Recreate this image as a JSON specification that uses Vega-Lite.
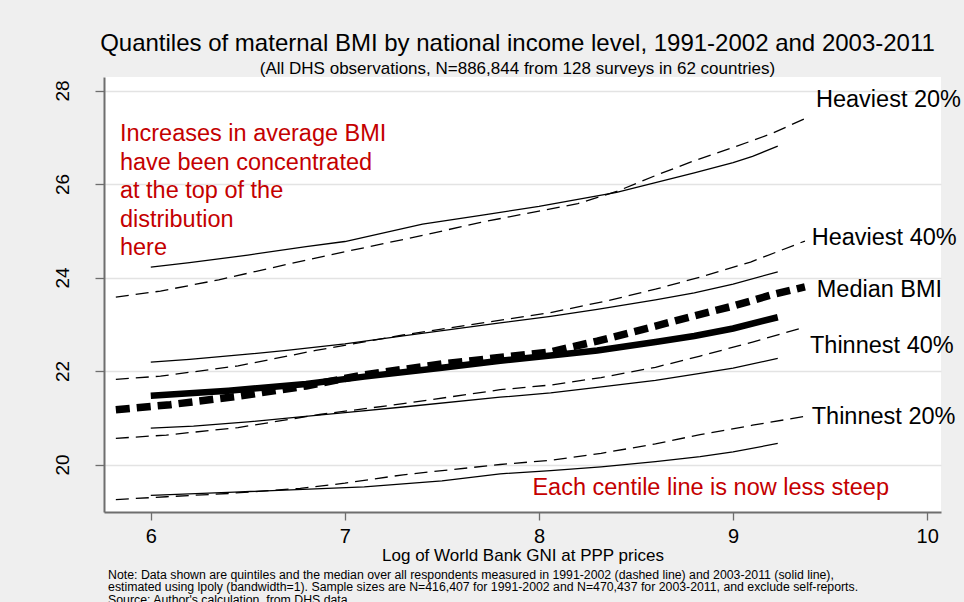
{
  "$schema": "https://vega.github.io/schema/vega-lite/v6.json",
  "width": 837,
  "height": 435,
  "autosize": {"type": "none"},
  "padding": {"left": 104, "top": 77, "right": 23, "bottom": 90},
  "background": "#efefef",
  "view": {"fill": "white", "stroke": null},
  "title": {
    "text": "Quantiles of maternal BMI by national income level, 1991-2002 and 2003-2011",
    "subtitle": "(All DHS observations, N=886,844 from 128 surveys in 62 countries)",
    "anchor": "middle",
    "frame": "group",
    "font": "Liberation Sans",
    "fontSize": 24,
    "fontWeight": "normal",
    "color": "black",
    "subtitleFont": "Liberation Sans",
    "subtitleFontSize": 17,
    "subtitleColor": "black",
    "subtitlePadding": 5,
    "offset": 0,
    "dx": -5
  },
  "datasets": {
    "quantiles": [
      {"q": "Heaviest 20%", "period": "2003-2011", "x": 6.0, "bmi": 24.22},
      {"q": "Heaviest 20%", "period": "2003-2011", "x": 6.2, "bmi": 24.32},
      {"q": "Heaviest 20%", "period": "2003-2011", "x": 6.5, "bmi": 24.48},
      {"q": "Heaviest 20%", "period": "2003-2011", "x": 6.8, "bmi": 24.66},
      {"q": "Heaviest 20%", "period": "2003-2011", "x": 7.0, "bmi": 24.77},
      {"q": "Heaviest 20%", "period": "2003-2011", "x": 7.4, "bmi": 25.14},
      {"q": "Heaviest 20%", "period": "2003-2011", "x": 7.7, "bmi": 25.33},
      {"q": "Heaviest 20%", "period": "2003-2011", "x": 8.0, "bmi": 25.52},
      {"q": "Heaviest 20%", "period": "2003-2011", "x": 8.4, "bmi": 25.82},
      {"q": "Heaviest 20%", "period": "2003-2011", "x": 8.6, "bmi": 26.03},
      {"q": "Heaviest 20%", "period": "2003-2011", "x": 8.8, "bmi": 26.24},
      {"q": "Heaviest 20%", "period": "2003-2011", "x": 9.0, "bmi": 26.46},
      {"q": "Heaviest 20%", "period": "2003-2011", "x": 9.1, "bmi": 26.59},
      {"q": "Heaviest 20%", "period": "2003-2011", "x": 9.23, "bmi": 26.81},

      {"q": "Heaviest 20%", "period": "1991-2002", "x": 5.82, "bmi": 23.58},
      {"q": "Heaviest 20%", "period": "1991-2002", "x": 6.05, "bmi": 23.71},
      {"q": "Heaviest 20%", "period": "1991-2002", "x": 6.35, "bmi": 23.95},
      {"q": "Heaviest 20%", "period": "1991-2002", "x": 6.7, "bmi": 24.28},
      {"q": "Heaviest 20%", "period": "1991-2002", "x": 7.0, "bmi": 24.55},
      {"q": "Heaviest 20%", "period": "1991-2002", "x": 7.4, "bmi": 24.9},
      {"q": "Heaviest 20%", "period": "1991-2002", "x": 7.7, "bmi": 25.18},
      {"q": "Heaviest 20%", "period": "1991-2002", "x": 8.0, "bmi": 25.42},
      {"q": "Heaviest 20%", "period": "1991-2002", "x": 8.2, "bmi": 25.58},
      {"q": "Heaviest 20%", "period": "1991-2002", "x": 8.4, "bmi": 25.84},
      {"q": "Heaviest 20%", "period": "1991-2002", "x": 8.6, "bmi": 26.18},
      {"q": "Heaviest 20%", "period": "1991-2002", "x": 8.8, "bmi": 26.5},
      {"q": "Heaviest 20%", "period": "1991-2002", "x": 9.0, "bmi": 26.78},
      {"q": "Heaviest 20%", "period": "1991-2002", "x": 9.2, "bmi": 27.08},
      {"q": "Heaviest 20%", "period": "1991-2002", "x": 9.37, "bmi": 27.4},

      {"q": "Heaviest 40%", "period": "2003-2011", "x": 6.0, "bmi": 22.19},
      {"q": "Heaviest 40%", "period": "2003-2011", "x": 6.2, "bmi": 22.25},
      {"q": "Heaviest 40%", "period": "2003-2011", "x": 6.5, "bmi": 22.36},
      {"q": "Heaviest 40%", "period": "2003-2011", "x": 6.7, "bmi": 22.44},
      {"q": "Heaviest 40%", "period": "2003-2011", "x": 7.0, "bmi": 22.58},
      {"q": "Heaviest 40%", "period": "2003-2011", "x": 7.3, "bmi": 22.75},
      {"q": "Heaviest 40%", "period": "2003-2011", "x": 7.55, "bmi": 22.89},
      {"q": "Heaviest 40%", "period": "2003-2011", "x": 7.8, "bmi": 23.03},
      {"q": "Heaviest 40%", "period": "2003-2011", "x": 8.06, "bmi": 23.17},
      {"q": "Heaviest 40%", "period": "2003-2011", "x": 8.3, "bmi": 23.32},
      {"q": "Heaviest 40%", "period": "2003-2011", "x": 8.6, "bmi": 23.52},
      {"q": "Heaviest 40%", "period": "2003-2011", "x": 8.8, "bmi": 23.67},
      {"q": "Heaviest 40%", "period": "2003-2011", "x": 9.0, "bmi": 23.86},
      {"q": "Heaviest 40%", "period": "2003-2011", "x": 9.23, "bmi": 24.12},

      {"q": "Heaviest 40%", "period": "1991-2002", "x": 5.82, "bmi": 21.82},
      {"q": "Heaviest 40%", "period": "1991-2002", "x": 6.05, "bmi": 21.89},
      {"q": "Heaviest 40%", "period": "1991-2002", "x": 6.45, "bmi": 22.11},
      {"q": "Heaviest 40%", "period": "1991-2002", "x": 6.85, "bmi": 22.44},
      {"q": "Heaviest 40%", "period": "1991-2002", "x": 7.3, "bmi": 22.77},
      {"q": "Heaviest 40%", "period": "1991-2002", "x": 7.55, "bmi": 22.93},
      {"q": "Heaviest 40%", "period": "1991-2002", "x": 8.06, "bmi": 23.25},
      {"q": "Heaviest 40%", "period": "1991-2002", "x": 8.35, "bmi": 23.5},
      {"q": "Heaviest 40%", "period": "1991-2002", "x": 8.6, "bmi": 23.75},
      {"q": "Heaviest 40%", "period": "1991-2002", "x": 8.83, "bmi": 24.01},
      {"q": "Heaviest 40%", "period": "1991-2002", "x": 9.09, "bmi": 24.33},
      {"q": "Heaviest 40%", "period": "1991-2002", "x": 9.37, "bmi": 24.78},

      {"q": "Median BMI", "period": "2003-2011", "x": 6.0, "bmi": 21.47},
      {"q": "Median BMI", "period": "2003-2011", "x": 6.4, "bmi": 21.58},
      {"q": "Median BMI", "period": "2003-2011", "x": 6.8, "bmi": 21.72},
      {"q": "Median BMI", "period": "2003-2011", "x": 7.1, "bmi": 21.88},
      {"q": "Median BMI", "period": "2003-2011", "x": 7.5, "bmi": 22.07},
      {"q": "Median BMI", "period": "2003-2011", "x": 7.8, "bmi": 22.22},
      {"q": "Median BMI", "period": "2003-2011", "x": 8.06, "bmi": 22.33},
      {"q": "Median BMI", "period": "2003-2011", "x": 8.3, "bmi": 22.44},
      {"q": "Median BMI", "period": "2003-2011", "x": 8.6, "bmi": 22.62},
      {"q": "Median BMI", "period": "2003-2011", "x": 8.8, "bmi": 22.75},
      {"q": "Median BMI", "period": "2003-2011", "x": 9.0, "bmi": 22.91},
      {"q": "Median BMI", "period": "2003-2011", "x": 9.23, "bmi": 23.15},

      {"q": "Median BMI", "period": "1991-2002", "x": 5.82, "bmi": 21.17},
      {"q": "Median BMI", "period": "1991-2002", "x": 6.1, "bmi": 21.28},
      {"q": "Median BMI", "period": "1991-2002", "x": 6.45, "bmi": 21.46},
      {"q": "Median BMI", "period": "1991-2002", "x": 6.8, "bmi": 21.68},
      {"q": "Median BMI", "period": "1991-2002", "x": 7.1, "bmi": 21.92},
      {"q": "Median BMI", "period": "1991-2002", "x": 7.5, "bmi": 22.15},
      {"q": "Median BMI", "period": "1991-2002", "x": 8.06, "bmi": 22.41},
      {"q": "Median BMI", "period": "1991-2002", "x": 8.3, "bmi": 22.64},
      {"q": "Median BMI", "period": "1991-2002", "x": 8.6, "bmi": 22.96},
      {"q": "Median BMI", "period": "1991-2002", "x": 8.8, "bmi": 23.18},
      {"q": "Median BMI", "period": "1991-2002", "x": 9.0, "bmi": 23.39},
      {"q": "Median BMI", "period": "1991-2002", "x": 9.2, "bmi": 23.63},
      {"q": "Median BMI", "period": "1991-2002", "x": 9.37, "bmi": 23.8},

      {"q": "Thinnest 40%", "period": "2003-2011", "x": 6.0, "bmi": 20.78},
      {"q": "Thinnest 40%", "period": "2003-2011", "x": 6.22, "bmi": 20.82},
      {"q": "Thinnest 40%", "period": "2003-2011", "x": 6.5, "bmi": 20.91},
      {"q": "Thinnest 40%", "period": "2003-2011", "x": 6.77, "bmi": 21.02},
      {"q": "Thinnest 40%", "period": "2003-2011", "x": 7.0, "bmi": 21.11},
      {"q": "Thinnest 40%", "period": "2003-2011", "x": 7.3, "bmi": 21.23},
      {"q": "Thinnest 40%", "period": "2003-2011", "x": 7.8, "bmi": 21.44},
      {"q": "Thinnest 40%", "period": "2003-2011", "x": 8.06, "bmi": 21.53},
      {"q": "Thinnest 40%", "period": "2003-2011", "x": 8.3, "bmi": 21.65},
      {"q": "Thinnest 40%", "period": "2003-2011", "x": 8.6, "bmi": 21.8},
      {"q": "Thinnest 40%", "period": "2003-2011", "x": 8.83, "bmi": 21.95},
      {"q": "Thinnest 40%", "period": "2003-2011", "x": 9.0, "bmi": 22.06},
      {"q": "Thinnest 40%", "period": "2003-2011", "x": 9.23, "bmi": 22.27},

      {"q": "Thinnest 40%", "period": "1991-2002", "x": 5.82, "bmi": 20.56},
      {"q": "Thinnest 40%", "period": "1991-2002", "x": 6.08, "bmi": 20.63},
      {"q": "Thinnest 40%", "period": "1991-2002", "x": 6.45, "bmi": 20.79},
      {"q": "Thinnest 40%", "period": "1991-2002", "x": 6.87, "bmi": 21.07},
      {"q": "Thinnest 40%", "period": "1991-2002", "x": 7.3, "bmi": 21.3},
      {"q": "Thinnest 40%", "period": "1991-2002", "x": 7.8, "bmi": 21.6},
      {"q": "Thinnest 40%", "period": "1991-2002", "x": 8.06, "bmi": 21.7},
      {"q": "Thinnest 40%", "period": "1991-2002", "x": 8.32, "bmi": 21.86},
      {"q": "Thinnest 40%", "period": "1991-2002", "x": 8.6, "bmi": 22.08},
      {"q": "Thinnest 40%", "period": "1991-2002", "x": 8.83, "bmi": 22.32},
      {"q": "Thinnest 40%", "period": "1991-2002", "x": 9.1, "bmi": 22.62},
      {"q": "Thinnest 40%", "period": "1991-2002", "x": 9.37, "bmi": 22.94},

      {"q": "Thinnest 20%", "period": "2003-2011", "x": 6.0, "bmi": 19.34},
      {"q": "Thinnest 20%", "period": "2003-2011", "x": 6.43, "bmi": 19.41},
      {"q": "Thinnest 20%", "period": "2003-2011", "x": 7.1, "bmi": 19.52},
      {"q": "Thinnest 20%", "period": "2003-2011", "x": 7.5, "bmi": 19.65},
      {"q": "Thinnest 20%", "period": "2003-2011", "x": 7.8, "bmi": 19.8},
      {"q": "Thinnest 20%", "period": "2003-2011", "x": 8.06, "bmi": 19.87},
      {"q": "Thinnest 20%", "period": "2003-2011", "x": 8.32, "bmi": 19.95},
      {"q": "Thinnest 20%", "period": "2003-2011", "x": 8.6, "bmi": 20.06},
      {"q": "Thinnest 20%", "period": "2003-2011", "x": 8.83, "bmi": 20.17},
      {"q": "Thinnest 20%", "period": "2003-2011", "x": 9.0, "bmi": 20.27},
      {"q": "Thinnest 20%", "period": "2003-2011", "x": 9.23, "bmi": 20.45},

      {"q": "Thinnest 20%", "period": "1991-2002", "x": 5.82, "bmi": 19.25},
      {"q": "Thinnest 20%", "period": "1991-2002", "x": 6.08, "bmi": 19.31},
      {"q": "Thinnest 20%", "period": "1991-2002", "x": 6.4, "bmi": 19.38},
      {"q": "Thinnest 20%", "period": "1991-2002", "x": 6.77, "bmi": 19.49},
      {"q": "Thinnest 20%", "period": "1991-2002", "x": 7.0, "bmi": 19.6},
      {"q": "Thinnest 20%", "period": "1991-2002", "x": 7.3, "bmi": 19.78},
      {"q": "Thinnest 20%", "period": "1991-2002", "x": 7.8, "bmi": 20.0},
      {"q": "Thinnest 20%", "period": "1991-2002", "x": 8.06, "bmi": 20.09},
      {"q": "Thinnest 20%", "period": "1991-2002", "x": 8.32, "bmi": 20.24},
      {"q": "Thinnest 20%", "period": "1991-2002", "x": 8.6, "bmi": 20.44},
      {"q": "Thinnest 20%", "period": "1991-2002", "x": 8.83, "bmi": 20.64},
      {"q": "Thinnest 20%", "period": "1991-2002", "x": 9.1, "bmi": 20.84},
      {"q": "Thinnest 20%", "period": "1991-2002", "x": 9.37, "bmi": 21.03}
    ],
    "lineLabels": [
      {"label": "Heaviest 20%", "x": 9.427, "bmi": 27.65},
      {"label": "Heaviest 40%", "x": 9.405, "bmi": 24.7},
      {"label": "Median BMI", "x": 9.431, "bmi": 23.59},
      {"label": "Thinnest 40%", "x": 9.396, "bmi": 22.39},
      {"label": "Thinnest 20%", "x": 9.405, "bmi": 20.86}
    ],
    "callouts": [
      {"text": ["Increases in average BMI", "have been concentrated", "at the top of the", "distribution", "here"], "x": 5.841, "bmi": 26.92},
      {"text": ["Each centile line is now less steep"], "x": 7.966, "bmi": 19.35}
    ],
    "footnote": [
      {"text": [
        "Note: Data shown are quintiles and the median over all respondents measured in 1991-2002 (dashed line) and 2003-2011 (solid line),",
        "estimated using lpoly (bandwidth=1). Sample sizes are N=416,407 for 1991-2002 and N=470,437 for 2003-2011, and exclude self-reports.",
        "Source: Author's calculation, from DHS data."
      ], "x": 5.78, "bmi": 17.55}
    ]
  },
  "encoding": {
    "x": {
      "field": "x",
      "type": "quantitative",
      "scale": {"domain": [5.759, 10.071], "nice": false, "zero": false},
      "axis": {
        "values": [6, 7, 8, 9, 10],
        "grid": false,
        "title": "Log of World Bank GNI at PPP prices",
        "titleFont": "Liberation Sans",
        "titleFontSize": 17,
        "titleFontWeight": "normal",
        "titleColor": "black",
        "titlePadding": 1,
        "labelFont": "Liberation Sans",
        "labelFontSize": 20,
        "labelColor": "black",
        "labelPadding": 6,
        "domainColor": "#6e6e6e",
        "domainWidth": 2,
        "tickColor": "#6e6e6e",
        "tickSize": 8,
        "tickWidth": 1.3
      }
    },
    "y": {
      "field": "bmi",
      "type": "quantitative",
      "scale": {"domain": [18.984, 28.289], "nice": false, "zero": false},
      "axis": {
        "values": [20, 22, 24, 26, 28],
        "grid": true,
        "gridColor": "#e3e3e3",
        "gridWidth": 1.5,
        "title": null,
        "labelFont": "Liberation Sans",
        "labelFontSize": 19,
        "labelColor": "black",
        "labelAngle": -90,
        "labelAlign": "center",
        "labelBaseline": "bottom",
        "labelPadding": 23,
        "domainColor": "#6e6e6e",
        "domainWidth": 2,
        "tickColor": "#6e6e6e",
        "tickSize": 9,
        "tickWidth": 1.3
      }
    }
  },
  "layer": [
    {
      "data": {"name": "quantiles"},
      "transform": [{"filter": "datum.period === '2003-2011' && datum.q !== 'Median BMI'"}],
      "mark": {"type": "line", "color": "black", "strokeWidth": 1.3},
      "encoding": {"detail": {"field": "q"}}
    },
    {
      "data": {"name": "quantiles"},
      "transform": [{"filter": "datum.period === '1991-2002' && datum.q !== 'Median BMI'"}],
      "mark": {"type": "line", "color": "black", "strokeWidth": 1.3, "strokeDash": [13, 7], "strokeCap": "butt"},
      "encoding": {"detail": {"field": "q"}}
    },
    {
      "data": {"name": "quantiles"},
      "transform": [{"filter": "datum.period === '2003-2011' && datum.q === 'Median BMI'"}],
      "mark": {"type": "line", "color": "black", "strokeWidth": 6.5, "strokeCap": "butt"},
      "encoding": {}
    },
    {
      "data": {"name": "quantiles"},
      "transform": [{"filter": "datum.period === '1991-2002' && datum.q === 'Median BMI'"}],
      "mark": {"type": "line", "color": "black", "strokeWidth": 7.5, "strokeDash": [14, 7], "strokeCap": "butt"},
      "encoding": {}
    },
    {
      "data": {"name": "lineLabels"},
      "mark": {"type": "text", "align": "left", "baseline": "alphabetic", "font": "Liberation Sans", "fontSize": 23.5, "color": "black"},
      "encoding": {"text": {"field": "label"}}
    },
    {
      "data": {"name": "callouts"},
      "mark": {"type": "text", "align": "left", "baseline": "alphabetic", "font": "Liberation Sans", "fontSize": 23.5, "lineHeight": 28.6, "color": "#c40000"},
      "encoding": {"text": {"field": "text"}}
    },
    {
      "data": {"name": "footnote"},
      "mark": {"type": "text", "align": "left", "baseline": "alphabetic", "font": "Liberation Sans", "fontSize": 12.3, "lineHeight": 12.3, "color": "black"},
      "encoding": {"text": {"field": "text"}}
    }
  ]
}
